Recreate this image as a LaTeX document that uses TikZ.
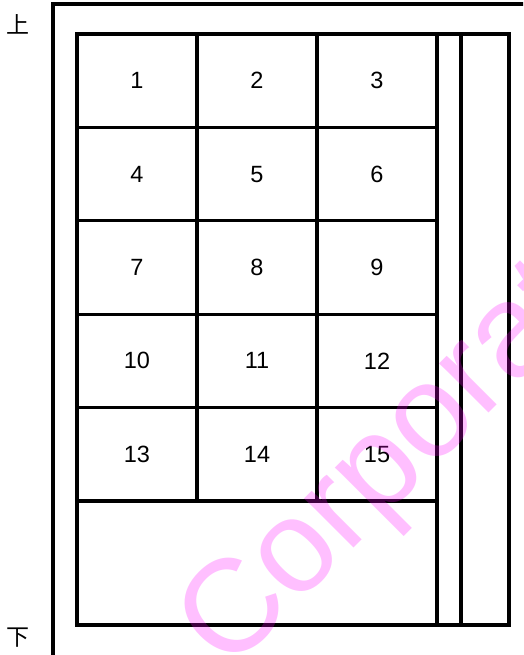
\documentclass[tikz,border=0pt]{standalone}
\usepackage{fontspec}
\setmainfont{Liberation Sans}
\newfontfamily\cjkfont{Noto Sans CJK SC}
\definecolor{wmcol}{RGB}{255,0,255}
\begin{document}
\begin{tikzpicture}[x=1pt,y=-1pt,
  frame/.style={line width=3.1pt,line cap=rect},
  cell/.style={draw,line width=3.1pt,rectangle,inner sep=0pt,outer sep=0pt,
    minimum width=120pt,minimum height=93.4pt,font=\fontsize{23.5}{28}\selectfont},
  side/.style={font=\cjkfont\fontsize{23}{26}\selectfont,inner sep=0pt},
  wmark/.style={font=\fontsize{132}{140}\selectfont,text=wmcol,text opacity=0.25,inner sep=0pt,rotate=45}]
\useasboundingbox (0,0) rectangle (523,655);
\clip (0,0) rectangle (523,655);
% outer frame
\coordinate (fbl) at (53,670);
\coordinate (ftl) at (53,4);
\coordinate (ftr) at (540,4);
\draw[frame] (fbl) -- (ftl) -- (ftr);
% numbered cells
\foreach \r in {0,...,4}{
  \foreach \c in {0,1,2}{
    \pgfmathtruncatemacro\n{\r*3+\c+1}
    \node[cell] (c\n) at ({137+120*\c},{34+46.7+93.4*\r}) {\n};
  }
}
% bottom wide cell
\node[cell,minimum width=360pt,minimum height=124pt] (bottom) at (257,563) {};
% right columns
\node[cell,minimum width=24pt,minimum height=591pt] (colA) at (449,329.5) {};
\node[cell,minimum width=48pt,minimum height=591pt] (colB) at (485,329.5) {};
% side labels
\node[side] (up) at (18,24) {上};
\node[side] (down) at (18,638) {下};
% watermark
\node[wmark,anchor=base west] (wm) at (228,674) {Corporat};
\end{tikzpicture}
\end{document}
